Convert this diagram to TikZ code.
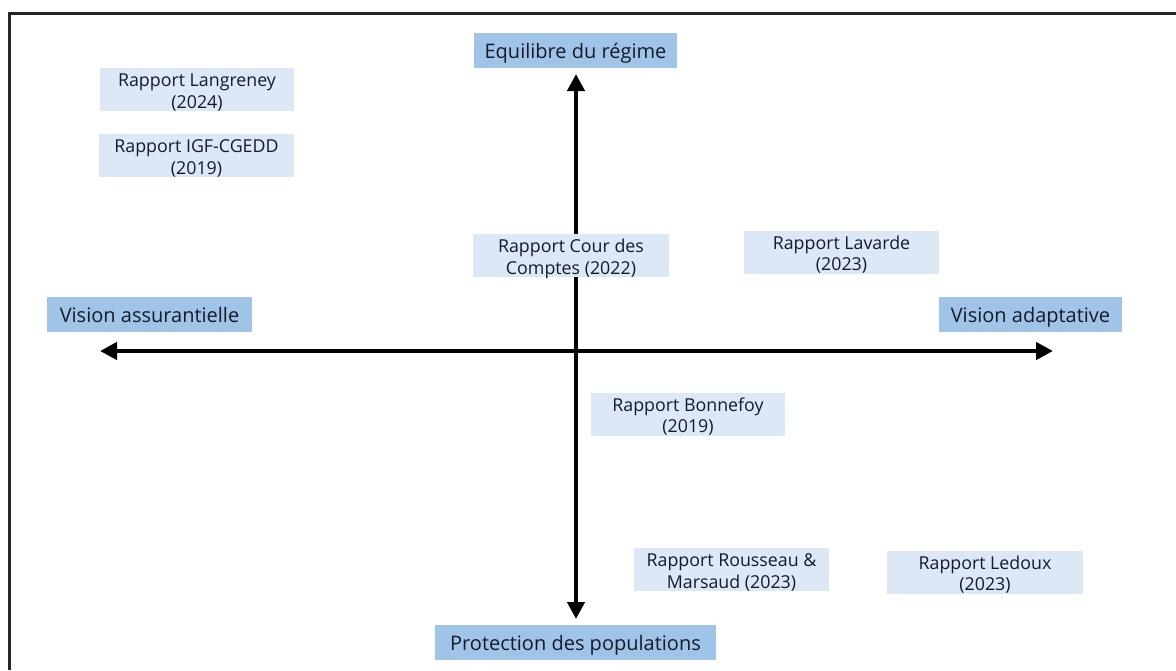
\documentclass[tikz,border=0pt]{standalone}
\usepackage{fontspec}
\setmainfont{Open Sans}
\usetikzlibrary{arrows.meta}
\definecolor{lightbox}{HTML}{DCE8F5}
\definecolor{darkbox}{HTML}{A0C4E8}
\definecolor{txt}{HTML}{161A2A}
\tikzset{
  report/.style={fill=lightbox, text=txt, align=center, inner sep=0pt, font=\fontsize{17.8}{21.5}\selectfont, text height=40pt, text depth=3pt},
  axislabel/.style={fill=darkbox, text=txt, align=center, inner sep=0pt, font=\fontsize{20}{22}\selectfont, text height=25.5pt, text depth=9.5pt},
  axis/.style={line width=4.5pt, {Triangle[length=17pt,width=17pt]}-{Triangle[length=17pt,width=17pt]}},
  frame/.style={line width=2.5pt, black!85}
}
\begin{document}
\begin{tikzpicture}[x=1pt,y=-1pt]
\useasboundingbox (0,0) rectangle (1176,670);
% frame (top and left edges)
\coordinate (fA) at (9.5,670);
\coordinate (fB) at (9.5,13.5);
\coordinate (fC) at (1176,13.5);
\draw[frame] (fA) -- (fB) -- (fC);
% axes
\coordinate (left) at (100,351);
\coordinate (right) at (1053,351);
\coordinate (top) at (576,74);
\coordinate (bottom) at (576,619);
\draw[axis] (left) -- (right);
\draw[axis] (top) -- (bottom);
% axis labels
\node[axislabel, minimum width=203pt] (eq) at (575.5,50.5) {Equilibre du régime};
\node[axislabel, minimum width=205pt] (va) at (149.5,314.5) {Vision assurantielle};
\node[axislabel, minimum width=183pt] (vad) at (1030.5,314) {Vision adaptative};
\node[axislabel, minimum width=281pt] (prot) at (575.5,642) {Protection des populations};
% reports
\node[report, minimum width=194pt] (lang) at (197,89.5) {Rapport Langreney\\(2024)};
\node[report, minimum width=195pt] (igf) at (196.5,155.5) {Rapport IGF-CGEDD\\(2019)};
\node[report, minimum width=196pt] (cour) at (571,255.5) {Rapport Cour des\\Comptes (2022)};
\node[report, minimum width=195pt] (lav) at (841.5,252) {Rapport Lavarde\\(2023)};
\node[report, minimum width=194pt] (bon) at (688,414) {Rapport Bonnefoy\\(2019)};
\node[report, minimum width=195pt] (rou) at (731.5,569.5) {Rapport Rousseau \&\\Marsaud (2023)};
\node[report, minimum width=196pt] (led) at (985,572) {Rapport Ledoux\\(2023)};
\end{tikzpicture}
\end{document}
